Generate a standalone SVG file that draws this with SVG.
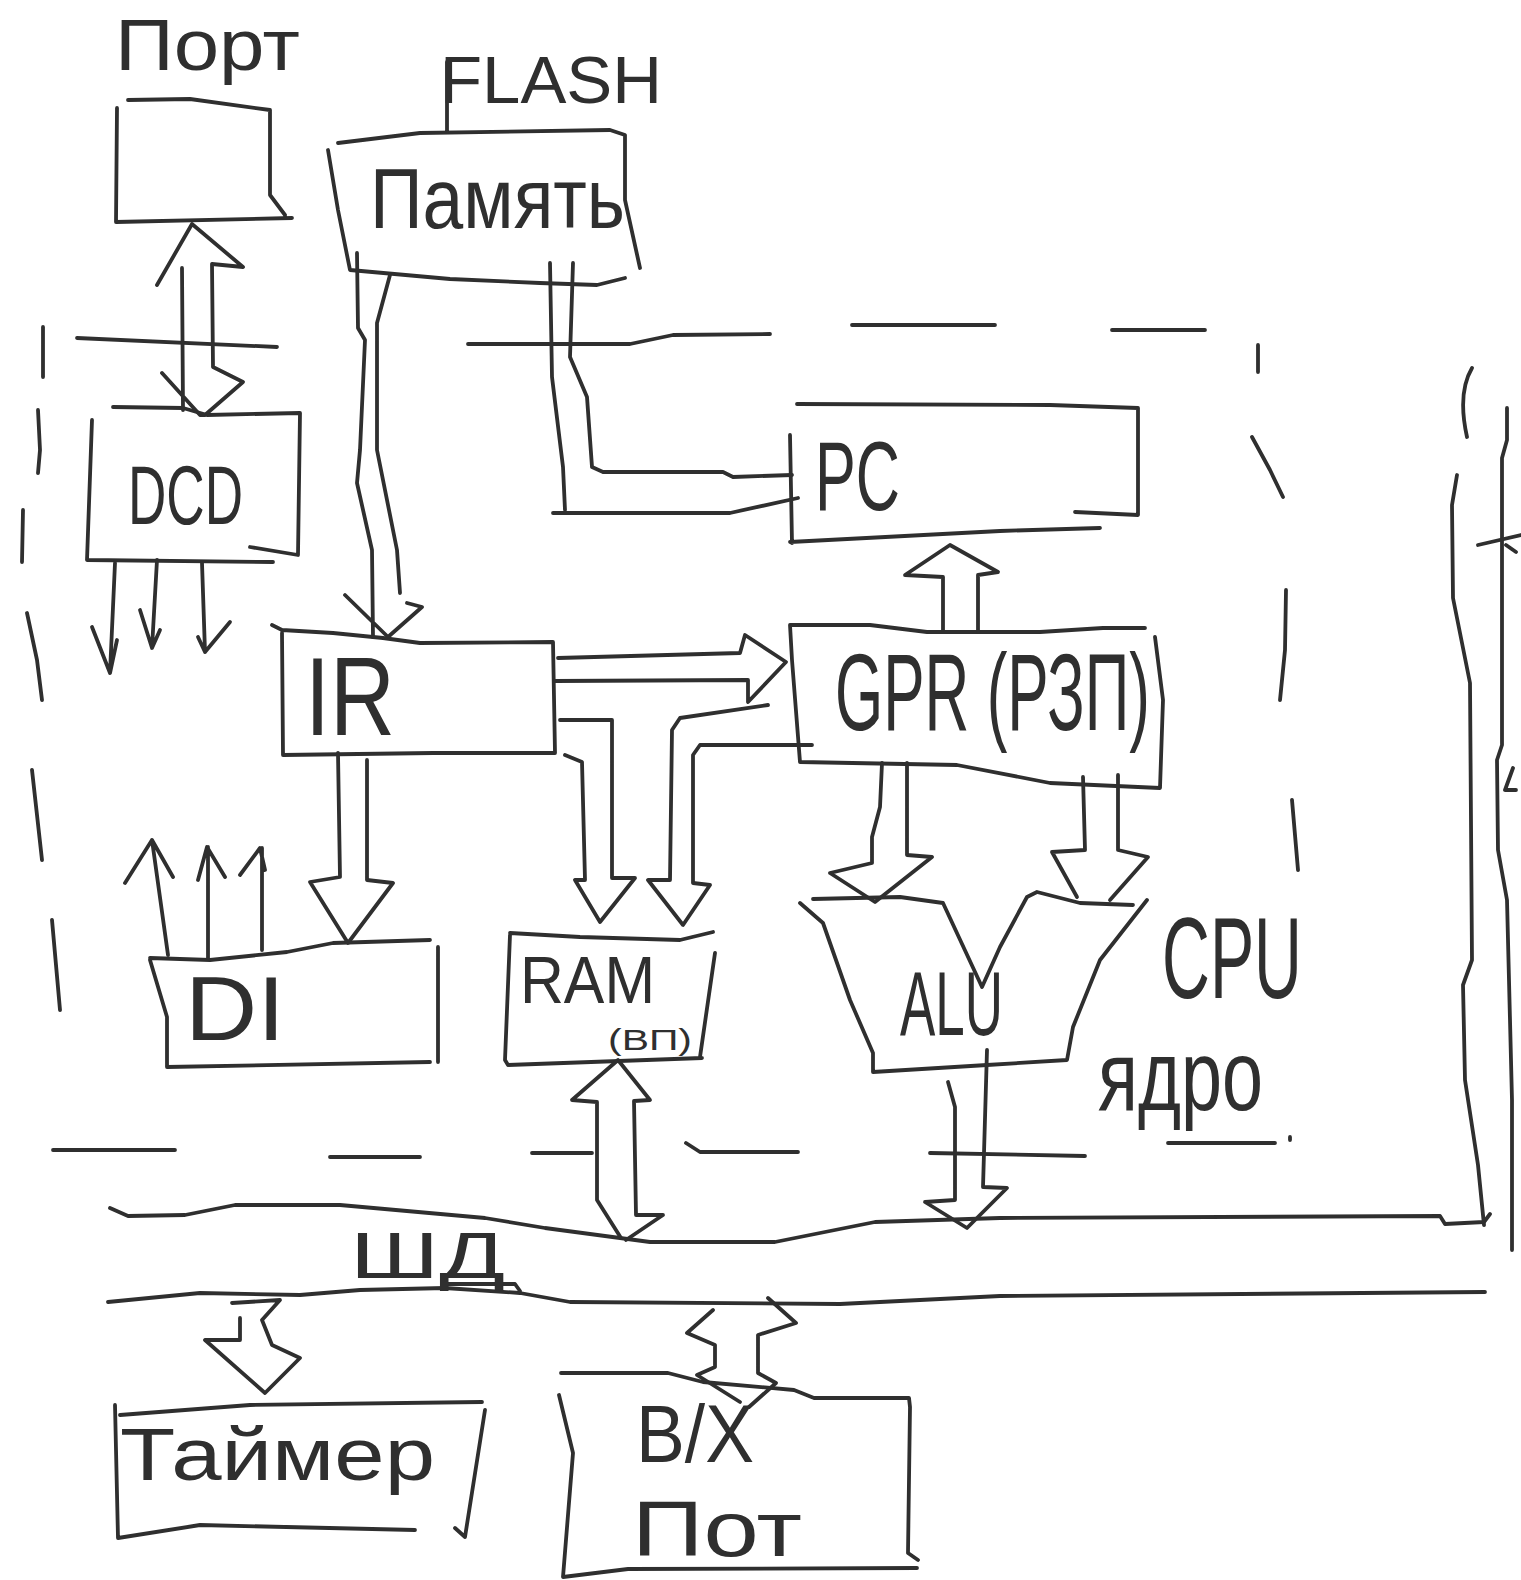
<svg xmlns="http://www.w3.org/2000/svg" width="1521" height="1580" viewBox="0 0 1521 1580">
<style>
.ln{fill:none;stroke:#2f2f2f;stroke-width:3.8;stroke-linecap:round;stroke-linejoin:round}
.t{font-family:"Liberation Sans","DejaVu Sans",sans-serif;fill:#2f2f2f}
</style>
<rect width="1521" height="1580" fill="#ffffff"/>

<g id="cpu-core">
  <path class="ln" d="M77,338 L277,347 M468,344 L630,344 L673,335 L770,334 M852,325 L995,325 M1112,330 L1205,330
  M1258,345 L1258,372 M1252,437 L1270,470 L1283,497 M1286,590 L1285,650 L1280,700 M1292,800 L1298,870
  M43,327 L43,377 M38,410 L40,450 L38,473 M23,510 L22,562 M27,613 L37,660 L42,700 M32,770 L42,860 M52,920 L60,1010
  M53,1150 L175,1150 M330,1157 L420,1157 M532,1153 L592,1153 M686,1143 L700,1152 L798,1152 M930,1153 L1085,1156 M1168,1143 L1275,1143 M1290,1137 L1290,1140"/>
  <text class="t" x="1162" y="998" font-size="115" textLength="140" lengthAdjust="spacingAndGlyphs">CPU</text>
  <text class="t" x="1098" y="1110" font-size="100" textLength="165" lengthAdjust="spacingAndGlyphs">ядро</text>
</g>

<g id="port">
  <path class="ln" d="M117,108 L116,222 L292,218 M128,100 L190,99 L270,110 L270,195 L285,215"/>
  <text class="t" x="115" y="70" font-size="72" textLength="185" lengthAdjust="spacingAndGlyphs">Порт</text>
</g>

<g id="flash">
  <path class="ln" d="M328,150 L338,210 L350,270 L450,279 L540,283 L597,285 L625,278 M338,143 L420,133 L610,130 L625,135 L625,200 L640,268 M447,62 L447,132"/>
  <text class="t" x="440" y="103" font-size="67" textLength="222" lengthAdjust="spacingAndGlyphs">FLASH</text>
  <text class="t" x="370" y="228" font-size="85" textLength="255" lengthAdjust="spacingAndGlyphs">Память</text>
</g>

<g id="dcd">
  <path class="ln" d="M113,407 L183,408 L207,415 L300,413 L298,555 L250,547 M92,420 L87,560 L273,562"/>
  <text class="t" x="128" y="524" font-size="84" textLength="115" lengthAdjust="spacingAndGlyphs">DCD</text>
</g>

<g id="pc">
  <path class="ln" d="M790,435 L792,543 M790,542 L1000,531 L1100,528 M1075,512 L1138,515 L1138,408 L1050,405 L797,404"/>
  <text class="t" x="815" y="510" font-size="98" textLength="85" lengthAdjust="spacingAndGlyphs">PC</text>
</g>

<g id="ir">
  <path class="ln" d="M272,625 L282,630 L333,633 L383,638 L420,643 L553,642 L555,753 L433,753 L283,755 L282,633"/>
  <text class="t" x="305" y="735" font-size="112" textLength="90" lengthAdjust="spacingAndGlyphs">IR</text>
</g>

<g id="gpr">
  <path class="ln" d="M790,625 L870,625 L927,632 L1040,632 L1103,628 L1145,628 M790,625 L792,660 L800,762 L957,765 L1050,783 L1160,788 L1163,700 L1155,637"/>
  <text class="t" x="835" y="730" font-size="110" textLength="315" lengthAdjust="spacingAndGlyphs">GPR (РЗП)</text>
</g>

<g id="di">
  <path class="ln" d="M150,958 L210,960 L287,952 L333,943 L430,940 M438,947 L438,1062 M150,960 L167,1017 L167,1067 L430,1062"/>
  <text class="t" x="185" y="1040" font-size="90" textLength="100" lengthAdjust="spacingAndGlyphs">DI</text>
</g>

<g id="ram">
  <path class="ln" d="M510,933 L580,937 L680,940 L713,932 M715,953 L700,1057 M510,935 L505,1060 L508,1065 L702,1058"/>
  <text class="t" x="520" y="1003" font-size="66" textLength="135" lengthAdjust="spacingAndGlyphs">RAM</text>
  <text class="t" x="608" y="1050" font-size="30" textLength="84" lengthAdjust="spacingAndGlyphs">(ВП)</text>
</g>

<g id="alu">
  <path class="ln" d="M800,903 L823,923 L850,1000 L873,1053 L873,1072 L987,1065 L1067,1060 L1073,1027 L1100,960 L1147,900
  M813,899 L900,897 L943,903 L982,987 L1000,947 L1027,897 L1037,892 L1080,903 L1133,905"/>
  <text class="t" x="900" y="1035" font-size="90" textLength="103" lengthAdjust="spacingAndGlyphs">ALU</text>
</g>

<g id="bus">
  <path class="ln" d="M110,1208 L128,1216 L185,1215 L235,1205 L340,1205 L485,1218 L545,1228 L620,1238 L650,1242 L775,1242 L875,1222 L1000,1218 L1440,1216 L1445,1224 L1484,1222 L1490,1214"/>
  <path class="ln" d="M108,1302 L200,1293 L300,1295 L360,1290 L445,1288 L520,1293 L570,1302 L840,1304 L1000,1296 L1485,1292"/>
  <path class="ln" d="M446,1284 L515,1284 L520,1291"/>
  <text class="t" x="350" y="1278" font-size="64" textLength="155" lengthAdjust="spacingAndGlyphs">ШД</text>
</g>

<g id="right-bus">
  <path class="ln" d="M1472,368 C1462,385 1461,410 1467,437 M1457,475 L1452,505 L1453,598 L1470,683 L1472,960 L1463,985 L1465,1080 L1478,1165 L1484,1225"/>
  <path class="ln" d="M1507,408 L1507,440 L1502,458 L1502,745 L1497,760 L1498,850 L1507,900 L1512,1100 L1512,1250"/>
  <path class="ln" d="M1478,545 L1521,535 M1506,545 L1516,552 M1513,768 L1505,790 L1516,790"/>
</g>

<g id="timer">
  <path class="ln" d="M120,1415 L250,1405 L482,1402 M115,1405 L118,1538 L200,1525 L415,1530 M485,1410 L465,1537 L455,1528"/>
  <text class="t" x="120" y="1480" font-size="74" textLength="315" lengthAdjust="spacingAndGlyphs">Таймер</text>
</g>

<g id="vu">
  <path class="ln" d="M561,1373 L668,1373 L703,1382 L794,1390 L814,1398 L909,1398 L910,1407 L908,1553 L918,1560 M559,1395 L573,1453 L563,1577 L628,1569 L917,1568"/>
  <text class="t" x="636" y="1462" font-size="82" textLength="118" lengthAdjust="spacingAndGlyphs">В/Х</text>
  <text class="t" x="632" y="1556" font-size="78" textLength="170" lengthAdjust="spacingAndGlyphs">Пот</text>
</g>

<g id="connectors">
  <path class="ln" d="M157,285 L192,224 L243,267 L212,264 L213,367 L243,382 L205,415 L200,415 L162,373 M182,268 L183,410"/>
  <path class="ln" d="M115,563 L110,673 M92,627 L110,673 L117,640 M157,560 L152,648 M140,610 L152,648 L160,630 M202,563 L205,652 M198,637 L205,652 L230,622"/>
  <path class="ln" d="M357,253 L358,328 L365,340 L360,450 L357,483 L372,550 L373,637 M390,275 L377,323 L377,450 L397,550 L400,593 M345,595 L388,637 L422,607 L407,603"/>
  <path class="ln" d="M550,263 L552,377 L563,467 L565,510 M553,513 L730,513 L798,498 M573,263 L570,357 L587,397 L592,467 L603,472 L723,472 L733,477 L792,475"/>
  <path class="ln" d="M943,630 L943,577 L905,575 L950,545 L998,572 L978,575 L978,632"/>
  <path class="ln" d="M558,658 L740,653 L745,635 L786,662 L748,702 L748,680 L555,681"/>
  <path class="ln" d="M560,720 L612,720 L612,878 L635,878 L600,922 L575,880 L585,880 L582,762 L565,755"/>
  <path class="ln" d="M812,745 L700,745 L693,755 L693,883 L710,885 L683,925 L648,880 L670,880 L672,730 L680,718 L768,705"/>
  <path class="ln" d="M338,753 L340,877 L310,882 L348,943 L393,883 L367,880 L367,760"/>
  <path class="ln" d="M168,955 L152,840 M125,883 L152,840 L173,877 M208,958 L208,847 M198,880 L207,847 L225,877 M262,950 L262,848 M240,875 L260,848 L265,870"/>
  <path class="ln" d="M882,763 L880,807 L872,837 L872,863 L830,873 L875,902 L932,857 L907,855 L907,763"/>
  <path class="ln" d="M1083,777 L1085,850 L1052,852 L1077,897 M1118,775 L1118,850 L1148,857 L1110,900"/>
  <path class="ln" d="M948,1082 L955,1107 L955,1200 L925,1202 L967,1228 L1007,1188 L983,1187 L987,1050"/>
  <path class="ln" d="M597,1102 L572,1100 L618,1060 L650,1100 L634,1101 L636,1215 L663,1215 L626,1240 M597,1102 L597,1200 L621,1238"/>
  <path class="ln" d="M232,1303 L280,1300 L262,1320 L272,1345 L300,1358 L265,1393 L205,1340 L240,1340 L240,1318"/>
  <path class="ln" d="M713,1310 L687,1333 L715,1345 L715,1367 L697,1375 L740,1402 M768,1298 L796,1323 L758,1335 L758,1373 L776,1383 L749,1407"/>
</g>
</svg>
